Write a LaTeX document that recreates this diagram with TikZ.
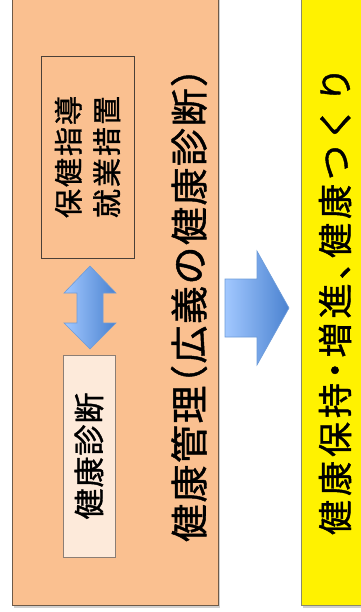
\documentclass[tikz,border=0pt]{standalone}
\usepackage{fontspec}
\setmainfont{Noto Sans CJK JP}
\newfontfamily\jpfont[FakeBold=1.2]{Noto Sans CJK JP}
\begin{document}
\begin{tikzpicture}[x=1pt,y=-1pt,
  orangefill/.style={fill=orangebg, draw=orangeedge, line width=0.9pt},
  yellowfill/.style={fill=yellow, draw=yellowedge, line width=0.9pt},
  framebox/.style={draw=boxedge, line width=0.8pt, inner sep=0pt},
  kenshinbox/.style={draw=kenedge, fill=kenbg, line width=0.8pt, inner sep=0pt},
  vtext/.style={rotate=90, inner sep=0pt, font=\jpfont, text=black, align=center},
  bluearrow/.style={draw=arrowedge, line width=0.6pt, left color=arrowL, right color=arrowR}
]
\definecolor{orangebg}{HTML}{FAC090}
\definecolor{orangeedge}{HTML}{6E5A48}
\definecolor{yellowedge}{HTML}{8A8A6A}
\definecolor{boxedge}{HTML}{4A4038}
\definecolor{kenedge}{HTML}{8C7E74}
\definecolor{kenbg}{HTML}{FDEADA}
\definecolor{arrowL}{HTML}{A2C8FF}
\definecolor{arrowR}{HTML}{4A82D0}
\definecolor{arrowedge}{HTML}{6E9CD8}
\definecolor{shadowgray}{HTML}{D0D0D0}
\useasboundingbox (0,0) rectangle (360,612);
\fill[white] (0,0) rectangle (360,612);
% shadows
\fill[shadowgray] (13.5,0) rectangle (220,607.5);
\fill[shadowgray] (302.5,0) rectangle (365,607.5);
% big areas
\node[orangefill, inner sep=0pt, minimum width=206pt, minimum height=609pt] (orange) at (115,300.5) {};
\node[yellowfill, inner sep=0pt, minimum width=66pt, minimum height=609pt] (yellowarea) at (334,300.5) {};
% inner boxes
\node[framebox, minimum width=93pt, minimum height=202pt] (hoken) at (87.5,157) {};
\node[kenshinbox, minimum width=52pt, minimum height=202pt] (kenshin) at (89,456) {};
% double arrow
\path[bluearrow] (90,266) -- (116,293) -- (103,293) -- (103,323) -- (116,323) -- (90,349)
  -- (64,323) -- (77,323) -- (77,293) -- (64,293) -- cycle;
% right arrow
\path[bluearrow] (225,279) -- (257,279) -- (257,251) -- (289,308) -- (257,365)
  -- (257,337) -- (225,337) -- cycle;
% texts
\node[vtext, font=\jpfont\fontsize{29}{38.5}\selectfont] (hokentext) at (hoken.center)
  {保\kern2pt 健\kern2pt 指\kern2pt 導\\就\kern2pt 業\kern2pt 措\kern2pt 置};
\node[vtext, font=\jpfont\fontsize{31}{36}\selectfont] (kenshintext) at (kenshin.center)
  {健\kern1pt 康\kern1pt 診\kern1pt 断};
\node[vtext, font=\jpfont\fontsize{38}{40}\selectfont] (kanri) at (189,305)
  {健\kern1.5pt 康\kern1.5pt 管\kern1.5pt 理\kern1.5pt \makebox[0.5em][r]{（}\kern1.5pt 広\kern1.5pt 義\kern1.5pt の\kern1.5pt 健\kern1.5pt 康\kern1.5pt 診\kern1.5pt 断\kern1.5pt \makebox[0.5em][l]{）}};
\node[vtext, font=\jpfont\fontsize{35}{40}\selectfont] (hoji) at (335,301)
  {健\kern4pt 康\kern4pt 保\kern4pt 持\kern4pt \makebox[0.5em][c]{・}\kern4pt 増\kern4pt 進\kern4pt \makebox[0.5em][l]{、}\kern4pt 健\kern4pt 康\kern4pt つ\kern4pt く\kern4pt り};
\end{tikzpicture}
\end{document}
